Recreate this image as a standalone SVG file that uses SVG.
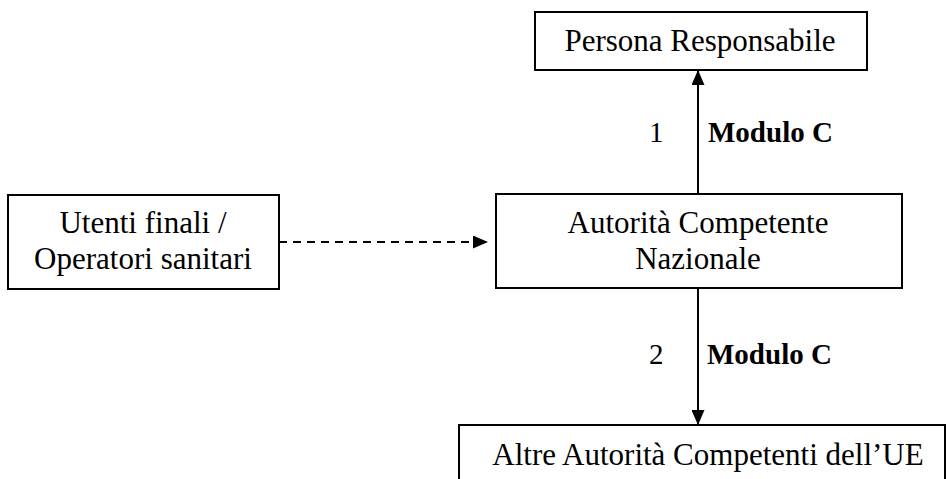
<svg xmlns="http://www.w3.org/2000/svg" width="946" height="479" viewBox="0 0 946 479">
<style>
.box{fill:#fff;stroke:#000;stroke-width:2}
.ln{stroke:#000;stroke-width:2;fill:none}
</style>
<defs>
<marker id="ah" viewBox="0 0 10 10" refX="10" refY="5" markerWidth="15" markerHeight="13" markerUnits="userSpaceOnUse" orient="auto" preserveAspectRatio="none">
<path d="M0,0 L10,5 L0,10 Z" fill="#000"/>
</marker>
</defs>
<rect width="946" height="479" fill="#fff"/>
<g id="connectors" font-family="'Liberation Serif', 'Times New Roman', serif" font-size="29" fill="#000">
<line class="ln" x1="698" y1="194" x2="698" y2="70" marker-end="url(#ah)"/>
<line class="ln" x1="698" y1="288" x2="698" y2="425" marker-end="url(#ah)"/>
<line class="ln" x1="279" y1="242" x2="488" y2="242" stroke-dasharray="8,6" marker-end="url(#ah)"/>
<text x="649" y="142">1</text>
<text x="708" y="142" font-weight="bold">Modulo C</text>
<text x="649" y="364">2</text>
<text x="707" y="364" font-weight="bold">Modulo C</text>
</g>
<g font-family="'Liberation Serif', 'Times New Roman', serif" font-size="31" fill="#000" text-anchor="middle">
<g id="persona">
<rect class="box" x="535" y="12" width="332" height="58"/>
<text x="700" y="51">Persona Responsabile</text>
</g>
<g id="utenti">
<rect class="box" x="8" y="195" width="271" height="94"/>
<text x="143" y="233">Utenti finali /</text>
<text x="143" y="269">Operatori sanitari</text>
</g>
<g id="autorita">
<rect class="box" x="496" y="194" width="406" height="94"/>
<text x="698" y="233">Autorità Competente</text>
<text x="698" y="269">Nazionale</text>
</g>
<g id="altre">
<rect class="box" x="459" y="425" width="486" height="70"/>
<text x="708" y="465">Altre Autorità Competenti dell’UE</text>
</g>
</g>
</svg>
